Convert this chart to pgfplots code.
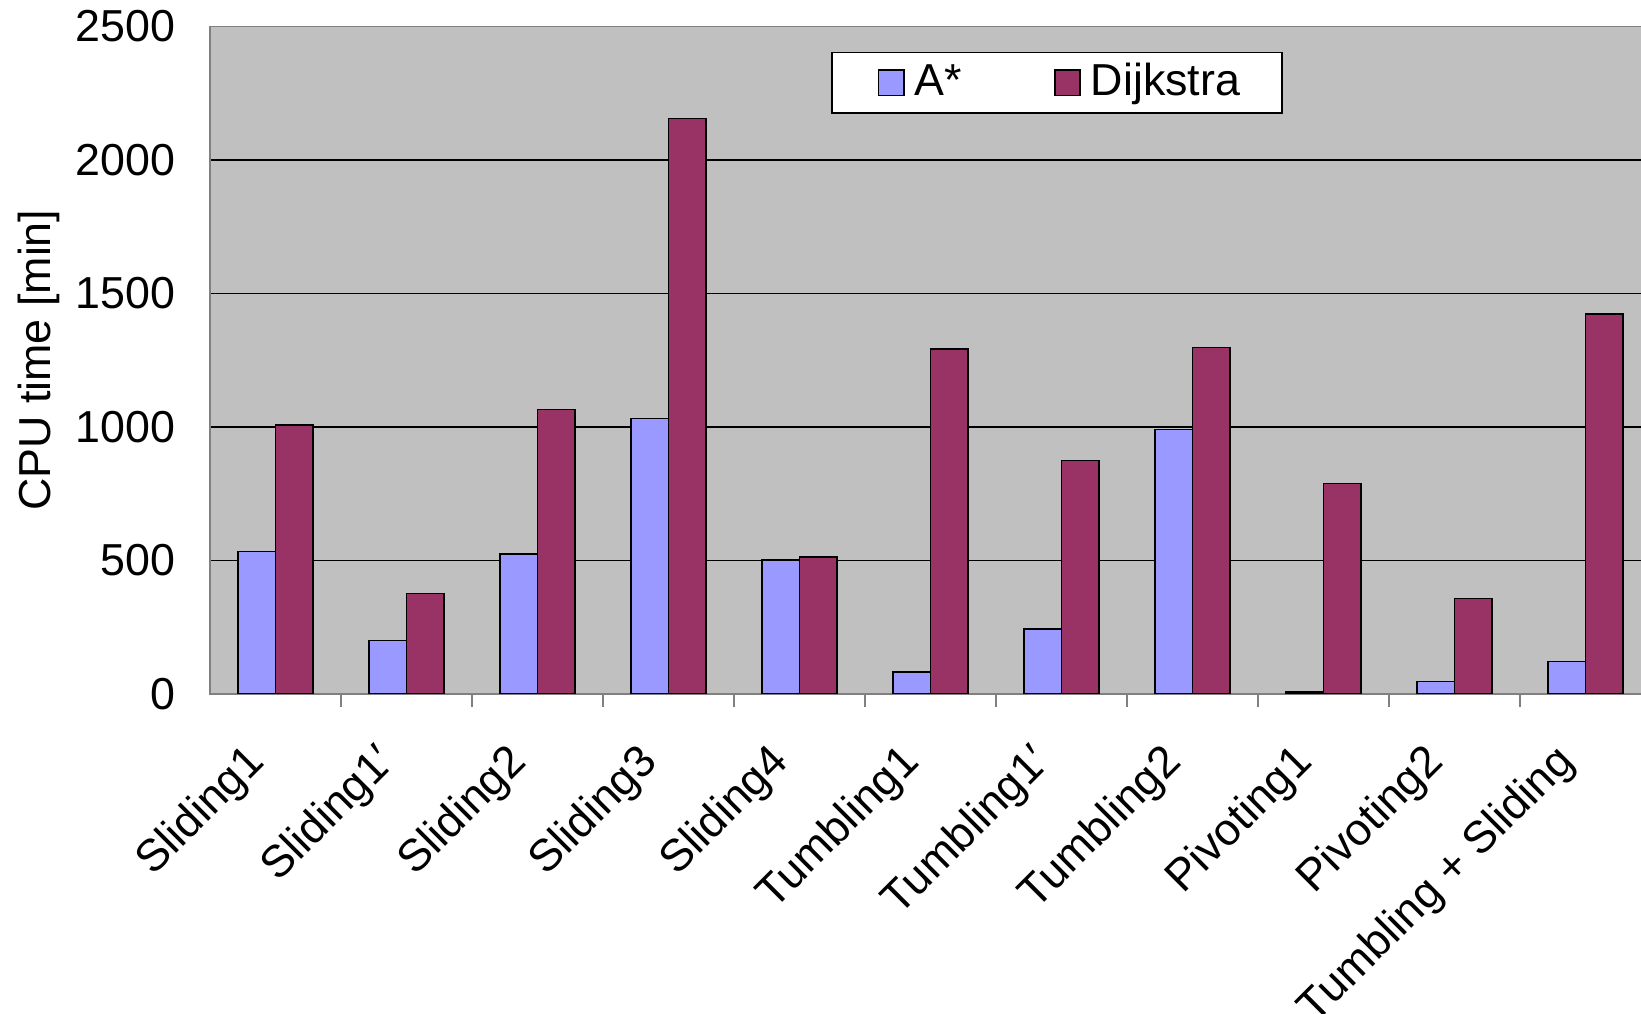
\documentclass[border=0pt]{standalone}
\usepackage{pgfplots}
\pgfplotsset{compat=1.18}
\usepackage{fontspec}
\setmainfont{Liberation Sans}
\definecolor{astar}{HTML}{9999FF}
\definecolor{dijk}{HTML}{993366}
\definecolor{bg}{HTML}{C0C0C0}
\definecolor{axgray}{HTML}{808080}
\newcommand{\fnt}{\fontsize{11.2}{13}\selectfont}
\begin{document}
\begin{tikzpicture}
\path[use as bounding box, clip] (0,0) rectangle (410.25pt,253.5pt);
\begin{axis}[
 at={(52.5pt,80pt)}, anchor=south west,
 scale only axis, width=360.25pt, height=166.9pt,
 xmin=0, xmax=11, ymin=0, ymax=2500,
 axis background/.style={fill=bg},
 axis line style={axgray, line width=0.4pt},
 ytick={0,500,...,2500},
 ymajorgrids, major grid style={black, line width=0.3pt},
 xtick={0.5,1.5,...,10.5},
 xticklabels={Sliding1, Sliding1′, Sliding2, Sliding3, Sliding4, Tumbling1, Tumbling1′, Tumbling2, Pivoting1, Pivoting2, Tumbling + Sliding},
 tick pos=left,
 major x tick style={draw=none},
 minor xtick={1,...,10},
 minor x tick style={axgray, line width=0.4pt},
 minor tick length=3.2pt, tick align=inside,
 major y tick style={draw=none},
 font=\fnt,
 ticklabel style={font=\fnt},
 /pgf/number format/assume math mode=true,
 /pgf/number format/1000 sep={},
 yticklabel style={inner sep=0pt, anchor=east, xshift=-8.5pt},
 xticklabel style={xshift=-4.3pt, yshift=-11pt, rotate=45, anchor=east, inner sep=0pt},
 ylabel={CPU time [min]},
 every axis y label/.style={at={(axis description cs:-0.1188,0.5)}, rotate=90, anchor=center},
 ybar=0pt, bar width=0.288,
 legend columns=2,
 legend style={at={(rel axis cs:0.431,0.9618)}, anchor=north west, draw=black, fill=white, line width=0.4pt, font=\fnt, /tikz/every even column/.append style={column sep=17pt}, inner xsep=8pt, inner ysep=1.4pt, nodes={inner ysep=1.3pt, inner xsep=2.5pt}},
 legend image code/.code={\path (0pt,0pt); \draw[#1, line width=0.4pt] (3.5pt,-3.15pt) rectangle (9.8pt,3.15pt);},
]
\addplot[fill=astar, draw=black, line width=0.4pt] coordinates {(0.5,533) (1.5,200) (2.5,525) (3.5,1031) (4.5,502) (5.5,82) (6.5,243) (7.5,991) (8.5,8) (9.5,47) (10.5,121)};
\addplot[fill=dijk, draw=black, line width=0.4pt] coordinates {(0.5,1007) (1.5,376) (2.5,1066) (3.5,2155) (4.5,513) (5.5,1293) (6.5,874) (7.5,1297) (8.5,788) (9.5,357) (10.5,1422)};
\legend{A*, Dijkstra}
\end{axis}
\end{tikzpicture}
\end{document}
